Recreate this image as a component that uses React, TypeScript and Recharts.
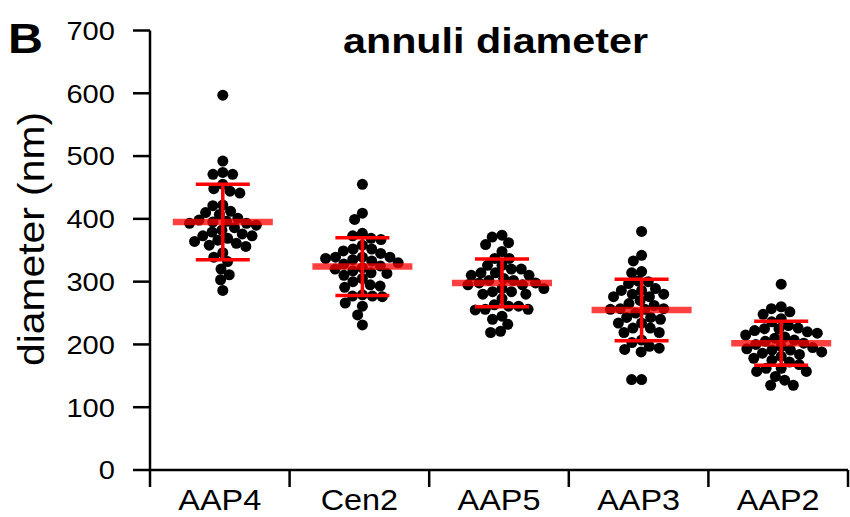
import { ScatterChart, Scatter, XAxis, YAxis } from "recharts";

const CATEGORIES = ["AAP4", "Cen2", "AAP5", "AAP3", "AAP2"];

const AAP4 = [
  597, 492, 474, 471, 471, 455, 448, 444, 441, 422, 421, 412, 410, 407, 401, 398, 396, 395, 393, 393,
  390, 386, 382, 379, 376, 373, 373, 369, 366, 364, 361, 358, 356, 346, 339, 332, 320, 311, 303, 286,
];
const CEN2 = [
  455, 409, 399, 377, 373, 369, 367, 358, 352, 352, 349, 345, 339, 339, 339, 337, 335, 333, 330, 328,
  325, 322, 320, 317, 314, 313, 310, 305, 300, 295, 293, 291, 279, 277, 277, 276, 266, 261, 247, 231,
];
const AAP5 = [
  374, 371, 362, 359, 348, 337, 337, 326, 326, 320, 320, 314, 314, 310, 310, 305, 302, 302, 298, 298,
  295, 295, 289, 289, 284, 284, 280, 280, 273, 263, 261, 261, 256, 256, 255, 245, 240, 232, 221, 219,
];
const AAP3 = [
  380, 342, 333, 316, 314, 301, 300, 297, 289, 286, 286, 280, 280, 276, 276, 270, 265, 262, 257, 257,
  256, 256, 250, 243, 243, 240, 234, 234, 226, 226, 219, 219, 207, 203, 197, 194, 192, 188, 144, 144,
];
const AAP2 = [
  296, 260, 257, 252, 248, 241, 236, 230, 226, 225, 225, 222, 220, 218, 215, 212, 210, 207, 205, 202,
  200, 197, 195, 193, 191, 191, 188, 186, 184, 181, 178, 175, 172, 168, 162, 162, 157, 157, 149, 143,
  135, 135,
];
const GROUPS = [AAP4, CEN2, AAP5, AAP3, AAP2];

const MEANS = [395, 324, 298, 255, 202];
const SDS = [60, 46, 38, 49, 35];

const Y_TICKS = [0, 100, 200, 300, 400, 500, 600, 700];
const X_TICKS = [0, 0.5, 1, 1.5, 2, 2.5, 3, 3.5, 4, 4.5, 5];

// layout constants (pixels)
const W = 850;
const H = 517;
const PLOT_TOP = 30.5;
const PLOT_BOTTOM = 470;
const PLOT_LEFT = 150;
const PLOT_RIGHT = 848;
const PX_PER_Y = (PLOT_BOTTOM - PLOT_TOP) / 700;
const PX_PER_X = (PLOT_RIGHT - PLOT_LEFT) / 5;
const DOT_R = 5.5;
const GAP = 10;
const CENTER_SHIFT = 3 / PX_PER_X; // columns sit a little right of the slot centre
const CAP_HALF = 27 / PX_PER_X;
const MEAN_HALF = 50 / PX_PER_X;

const FONT = "'Liberation Sans', Arial, Helvetica, sans-serif";

// greedy beeswarm: each dot goes to the free spot nearest the column centre
function swarm(values: number[]) {
  const pts = values.map((v) => ({ v, py: v * PX_PER_Y, px: 0 }));
  const order = [...pts].sort((a, b) => b.py - a.py);
  const placed: typeof pts = [];
  for (const p of order) {
    const cands = [0];
    for (const q of placed) {
      const dy = Math.abs(q.py - p.py);
      if (dy < GAP) {
        const dx = Math.sqrt(GAP * GAP - dy * dy);
        cands.push(q.px - dx, q.px + dx);
      }
    }
    cands.sort((a, b) => Math.abs(a) - Math.abs(b));
    for (const c of cands) {
      const ok = placed.every((q) => (q.px - c) ** 2 + (q.py - p.py) ** 2 >= GAP * GAP - 0.01);
      if (ok) {
        p.px = c;
        break;
      }
    }
    placed.push(p);
  }
  return pts;
}

const dotData = GROUPS.flatMap((vals, i) =>
  swarm(vals).map((p) => ({ x: i + 0.5 + CENTER_SHIFT + p.px / PX_PER_X, y: p.v }))
);

// two-point segments for the SD whiskers, caps and mean bars
const whiskers = MEANS.map((m, i) => {
  const cx = i + 0.5 + CENTER_SHIFT;
  const hi = m + SDS[i];
  const lo = m - SDS[i];
  return {
    stem: [{ x: cx, y: lo }, { x: cx, y: hi }],
    top: [{ x: cx - CAP_HALF, y: hi }, { x: cx + CAP_HALF, y: hi }],
    bottom: [{ x: cx - CAP_HALF, y: lo }, { x: cx + CAP_HALF, y: lo }],
    mean: [{ x: cx - MEAN_HALF, y: m }, { x: cx + MEAN_HALF, y: m }],
  };
});

const Dot = (props: any) => <circle cx={props.cx} cy={props.cy} r={DOT_R} fill="#000" />;
const NoDot = () => <g />;

const YTick = ({ x, y, payload }: any) => (
  <text
    transform={`translate(${x},${y}) scale(1.12,1)`}
    textAnchor="end"
    dy="0.36em"
    fontSize={26}
    fontFamily={FONT}
    fill="#000"
  >
    {payload.value}
  </text>
);

const XTick = ({ x, y, payload }: any) => {
  const v = payload.value;
  if (Number.isInteger(v)) {
    return <line x1={x} x2={x} y1={y} y2={y + 17} stroke="#000" strokeWidth={2.5} />;
  }
  return (
    <text
      transform={`translate(${x},${y + 40}) scale(1.08,1)`}
      textAnchor="middle"
      fontSize={30}
      fontFamily={FONT}
      fill="#000"
    >
      {CATEGORIES[Math.floor(v)]}
    </text>
  );
};

const RED_LINE = { stroke: "#ff0000", strokeWidth: 3.5 };
const MEAN_LINE = { stroke: "#ff0000", strokeWidth: 6.5, strokeOpacity: 0.75 };

export default function App() {
  return (
    <div style={{ position: "absolute", left: 0, top: 0, width: W, height: H, background: "#fff" }}>
      <ScatterChart
        width={W}
        height={H}
        margin={{ top: PLOT_TOP, right: W - PLOT_RIGHT, bottom: 0, left: 0 }}
      >
        <XAxis
          type="number"
          dataKey="x"
          domain={[0, 5]}
          ticks={X_TICKS}
          interval={0}
          tick={XTick}
          tickLine={false}
          tickSize={0}
          tickMargin={0}
          height={H - PLOT_BOTTOM}
          axisLine={{ stroke: "#000", strokeWidth: 2.5 }}
          allowDataOverflow
        />
        <YAxis
          type="number"
          dataKey="y"
          domain={[0, 700]}
          ticks={Y_TICKS}
          interval={0}
          width={PLOT_LEFT}
          tick={YTick}
          tickSize={17}
          tickMargin={18}
          tickLine={{ stroke: "#000", strokeWidth: 2.5 }}
          axisLine={{ stroke: "#000", strokeWidth: 2.5 }}
          allowDataOverflow
        />
        <Scatter data={dotData} dataKey="y" shape={Dot} isAnimationActive={false} />
        {whiskers.flatMap((w, i) => [
          <Scatter key={`s${i}`} data={w.stem} dataKey="y" line={RED_LINE} shape={NoDot} isAnimationActive={false} />,
          <Scatter key={`t${i}`} data={w.top} dataKey="y" line={RED_LINE} shape={NoDot} isAnimationActive={false} />,
          <Scatter key={`b${i}`} data={w.bottom} dataKey="y" line={RED_LINE} shape={NoDot} isAnimationActive={false} />,
          <Scatter key={`m${i}`} data={w.mean} dataKey="y" line={MEAN_LINE} shape={NoDot} isAnimationActive={false} />,
        ])}
      </ScatterChart>
      <svg
        width={W}
        height={H}
        style={{ position: "absolute", left: 0, top: 0, pointerEvents: "none" }}
      >
        <text x={8} y={53} fontSize={42} fontWeight="bold" fontFamily={FONT} textLength={35} lengthAdjust="spacingAndGlyphs">
          B
        </text>
        <text
          x={495.5}
          y={53}
          textAnchor="middle"
          fontSize={35}
          fontWeight="bold"
          fontFamily={FONT}
          textLength={305}
          lengthAdjust="spacingAndGlyphs"
        >
          annuli diameter
        </text>
        <text
          x={44}
          y={239}
          transform="rotate(-90, 44, 239)"
          textAnchor="middle"
          fontSize={36}
          fontFamily={FONT}
          textLength={254}
          lengthAdjust="spacingAndGlyphs"
        >
          diameter (nm)
        </text>
      </svg>
    </div>
  );
}
